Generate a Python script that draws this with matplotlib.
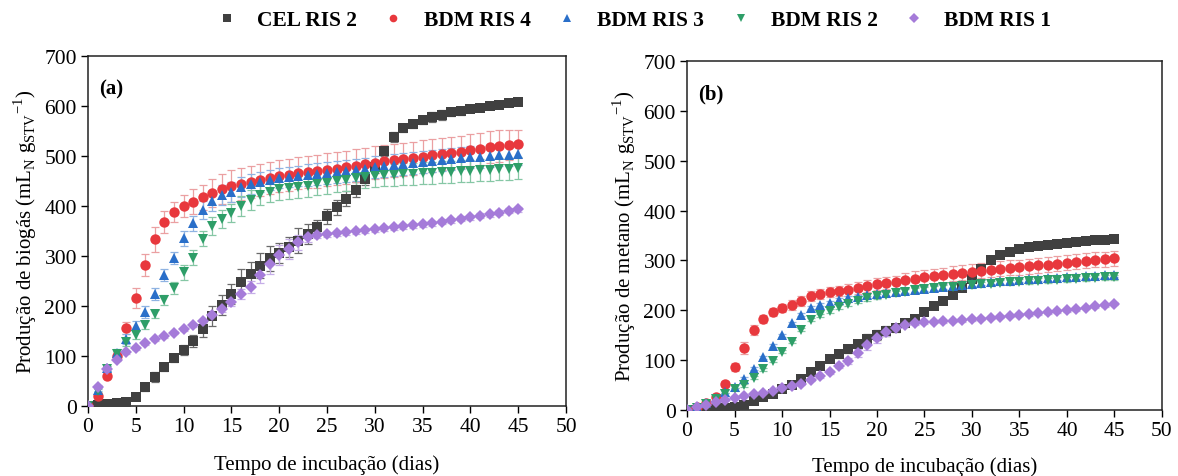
import matplotlib
matplotlib.use("Agg")
import matplotlib.pyplot as plt
from matplotlib.lines import Line2D

plt.rcParams['font.family'] = ['Liberation Serif', 'DejaVu Serif']
plt.rcParams['mathtext.fontset'] = 'custom'
plt.rcParams['mathtext.rm'] = 'Liberation Serif'

days = list(range(46))
labels = ["CEL RIS 2", "BDM RIS 4", "BDM RIS 3", "BDM RIS 2", "BDM RIS 1"]

# ---------- Panel (a): biogas ----------
bio_cel2 = [0,2,3,5,8,18,38,58,78,95,112,130,153,180,202,224,248,263,280,295,305,318,330,344,357,379,397,414,432,453,478,509,538,556,564,571,577,582,587,590,593,596,599,602,605,607]
bio_bdm4 = [0,20,60,100,155,216,282,333,368,388,400,408,417,426,434,440,444,448,452,456,459,462,465,467,469,472,474,477,480,483,486,489,491,493,495,498,501,503,506,508,511,514,517,520,522,524]
bio_bdm3 = [0,32,75,106,134,160,188,223,262,296,335,365,391,410,421,428,437,444,448,452,455,458,460,462,464,466,468,470,472,474,477,480,482,484,486,488,490,492,493,495,497,498,499,501,502,504]
bio_bdm2 = [0,30,74,103,127,142,161,184,211,235,267,296,334,360,374,385,399,411,421,428,433,436,438,440,443,446,449,452,455,457,459,461,462,463,464,465,466,467,468,469,470,471,472,473,474,475]
bio_bdm1 = [0,38,74,92,107,115,125,133,139,146,153,161,169,182,194,207,223,237,261,284,301,314,327,337,341,343,345,347,349,351,353,355,357,359,361,363,365,368,371,374,377,380,383,386,390,393]

bio_err_cel2 = [0,1,1,2,2,5,8,10,8,8,10,12,15,20,20,20,25,25,25,25,20,20,25,20,15,15,15,15,15,12,12,10,10,8,8,8,10,10,8,8,6,6,6,5,5,5]
bio_err_bdm4 = [0,3,5,8,12,20,22,25,22,20,22,25,25,28,30,32,32,32,32,32,32,32,32,32,33,33,33,33,33,33,33,33,33,33,33,33,33,32,32,32,32,32,32,32,30,28]
bio_err_bdm3 = [0,3,5,8,10,10,12,12,12,12,15,15,18,20,20,20,20,20,20,20,20,20,20,22,22,22,22,22,22,22,22,22,22,22,22,22,22,22,22,22,22,22,22,22,22,22]
bio_err_bdm2 = [0,3,5,6,8,8,8,8,10,12,15,15,15,18,18,18,20,20,20,20,22,22,22,22,22,22,22,22,22,22,22,22,22,22,22,22,22,22,22,22,22,22,22,22,22,22]
bio_err_bdm1 = [0,3,3,3,3,3,3,3,3,3,3,3,3,5,6,8,10,12,15,20,20,20,15,10,6,5,5,5,5,5,5,5,5,5,5,5,5,5,5,5,5,5,5,5,5,5]

# ---------- Panel (b): methane ----------
met_cel2 = [0,0,1,2,3,5,10,18,26,33,43,51,62,77,89,102,113,123,133,143,150,158,165,175,183,196,209,218,230,245,262,282,300,311,317,322,326,329,331,333,335,337,339,340,341,342]
met_bdm4 = [0,5,14,26,53,86,124,160,183,196,205,211,219,228,233,236,239,241,245,249,252,255,257,260,263,266,268,270,273,275,277,279,281,283,285,286,288,290,291,293,295,297,299,301,302,304]
met_bdm3 = [0,5,14,24,37,47,63,83,106,129,150,174,191,205,211,215,220,224,227,230,232,234,237,239,241,243,245,247,249,251,253,255,257,258,259,261,262,263,264,265,266,267,268,269,270,271]
met_bdm2 = [0,4,12,22,32,42,50,65,82,99,117,137,161,181,190,198,206,213,219,224,228,231,234,237,240,242,244,246,247,249,250,252,253,255,256,257,258,259,260,261,262,263,264,265,266,266]
met_bdm1 = [0,5,10,17,21,24,28,32,35,39,44,48,53,61,68,77,89,98,114,130,144,156,165,171,174,176,177,178,179,180,182,183,185,187,189,191,192,194,196,198,200,202,205,208,210,213]

met_err_cel2 = [0,0,1,1,1,2,3,3,3,3,4,4,5,5,5,6,8,8,8,10,10,10,8,6,5,4,4,4,4,4,4,4,4,4,4,4,4,4,4,4,4,4,4,4,4,4]
met_err_bdm4 = [0,1,2,3,5,8,12,10,8,8,8,10,10,10,10,10,10,12,12,12,12,12,12,15,15,15,15,15,15,15,15,15,15,15,15,15,15,15,15,15,15,15,15,15,15,15]
met_err_bdm3 = [0,1,2,2,3,3,3,3,3,3,3,3,3,3,3,4,4,4,4,5,5,5,5,5,5,5,5,5,5,5,5,5,5,5,5,5,5,5,5,5,5,5,5,5,5,5]
met_err_bdm2 = [0,1,2,2,3,3,3,3,3,3,3,3,3,3,3,4,4,4,4,5,5,5,5,5,5,5,5,5,5,5,5,5,5,5,5,5,5,5,5,5,5,5,5,5,5,5]
met_err_bdm1 = [0,1,1,2,2,2,2,2,2,2,2,2,3,3,3,4,5,6,8,10,10,8,6,5,4,3,3,3,3,3,3,3,3,3,3,3,3,3,3,3,3,3,3,3,3,3]

colors = ["#404040", "#e8383d", "#2a6fc9", "#2e9e68", "#a57bd9"]
ecolors = ["#6a6a6a", "#eba0a2", "#8fb3e2", "#86c7a5", "#c6aee8"]
markers = ["s", "o", "^", "v", "D"]
msizes = [6.5, 7.5, 7.5, 7.5, 6.0]

bio = [bio_cel2, bio_bdm4, bio_bdm3, bio_bdm2, bio_bdm1]
bio_err = [bio_err_cel2, bio_err_bdm4, bio_err_bdm3, bio_err_bdm2, bio_err_bdm1]
met = [met_cel2, met_bdm4, met_bdm3, met_bdm2, met_bdm1]
met_err = [met_err_cel2, met_err_bdm4, met_err_bdm3, met_err_bdm2, met_err_bdm1]

fig = plt.figure(figsize=(11.78, 4.77), dpi=100)
axA = fig.add_axes([0.0747, 0.1468, 0.4058, 0.7338])
axB = fig.add_axes([0.5832, 0.1384, 0.4032, 0.7317])

def draw(ax, series, errs, panel, ylabel, xpad):
    for i in range(5):
        ax.errorbar(days, series[i], yerr=errs[i], fmt='none', ecolor=ecolors[i],
                    elinewidth=0.9, capsize=3, capthick=0.9, zorder=2)
    order = [4, 3, 2, 1, 0]
    for i in order:
        ax.plot(days, series[i], linestyle='none', marker=markers[i], color=colors[i],
                markersize=msizes[i], markeredgewidth=0, zorder=3 + i * 0.1)
    ax.set_xlim(0, 50)
    ax.set_ylim(0, 700)
    ax.set_xticks(range(0, 51, 5))
    ax.set_yticks(range(0, 701, 100))
    ax.tick_params(axis='both', which='major', direction='out', length=5, width=1,
                   labelsize=15.5, top=False, right=False, pad=3)
    for s in ax.spines.values():
        s.set_linewidth(1.1)
        s.set_color('#222222')
    ax.set_xlabel("Tempo de incubação (dias)", fontsize=15, labelpad=xpad)
    ax.set_ylabel(ylabel, fontsize=15, labelpad=4)
    ax.text(1.2, 655, panel, fontsize=15, fontweight='bold', va='top', ha='left')

draw(axA, bio, bio_err, "(a)",
     r"Produção de biogás (mL$_\mathregular{N}$ g$_\mathregular{STV}$$^\mathregular{-1}$)", 13)
draw(axB, met, met_err, "(b)",
     r"Produção de metano (mL$_\mathregular{N}$ g$_\mathregular{STV}$$^\mathregular{-1}$)", 12)

handles = [Line2D([], [], linestyle='none', marker=markers[i], color=colors[i],
                  markersize=5.5, markeredgewidth=0) for i in range(5)]
fig.legend(handles, labels, loc='center', bbox_to_anchor=(0.538, 0.955), ncol=5,
           frameon=False, prop={'weight': 'bold', 'size': 15.5}, handletextpad=0.9,
           columnspacing=1.2, handlelength=1.0)

fig.savefig("out.png", dpi=100)
